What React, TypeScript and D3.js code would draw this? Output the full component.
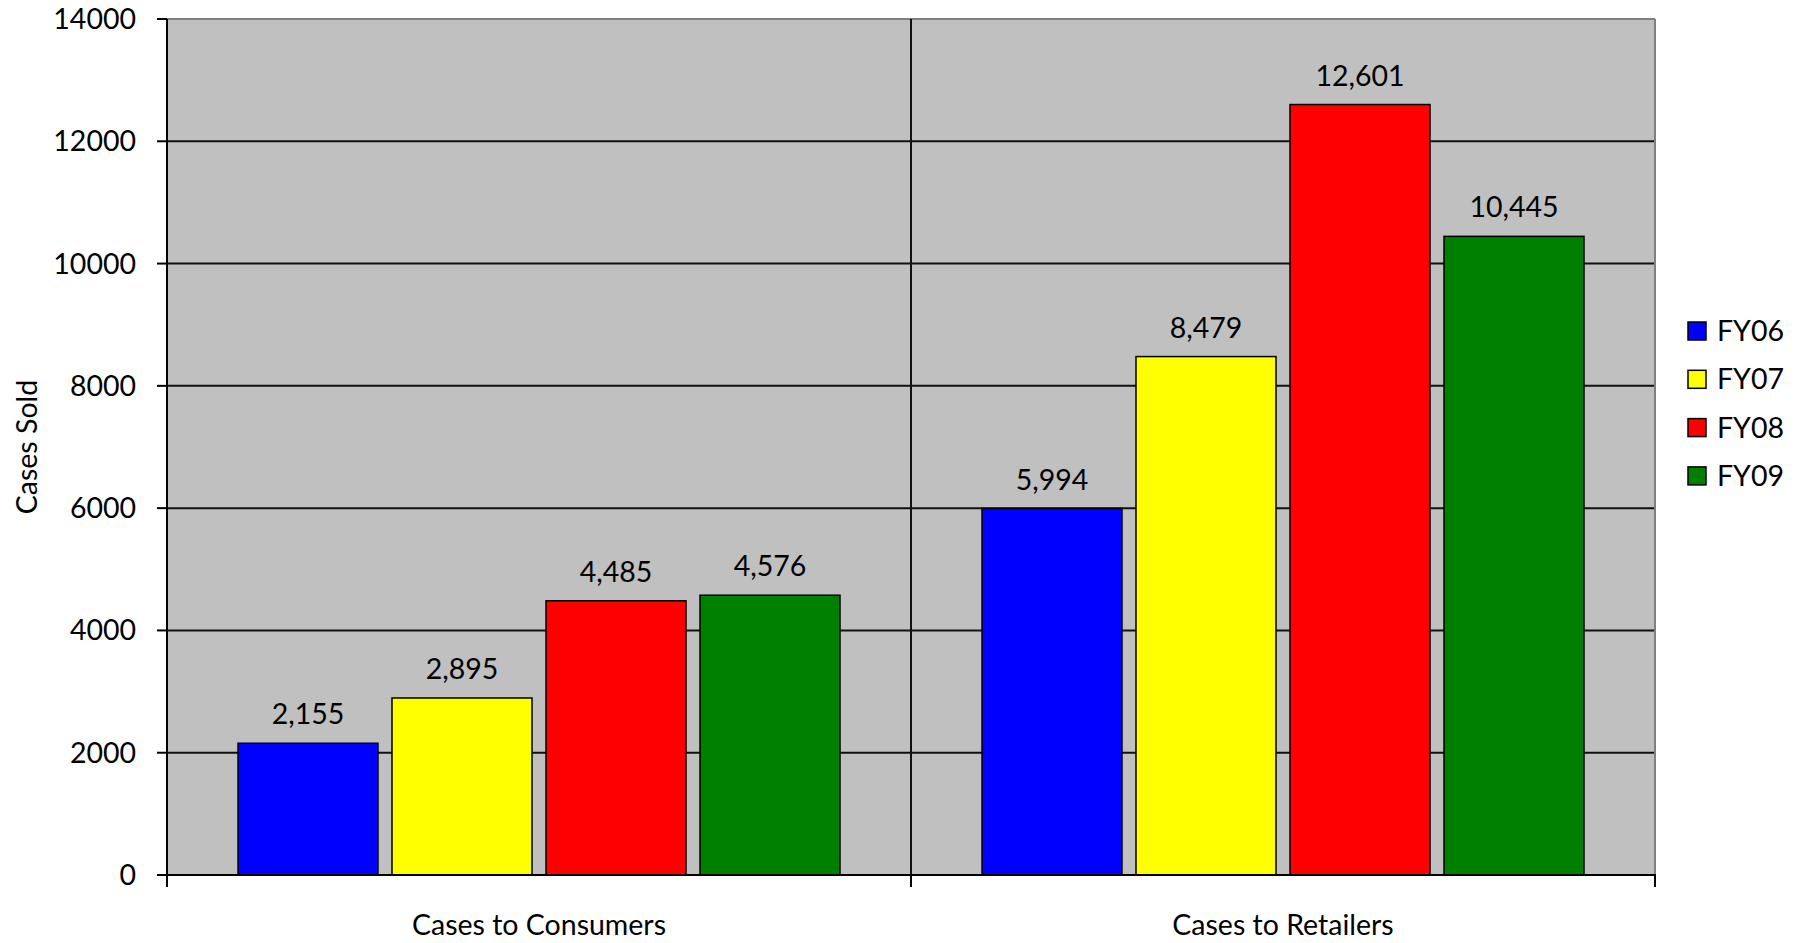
import React from "react";
import * as d3 from "d3";

const categories = ["Cases to Consumers", "Cases to Retailers"];
const seriesNames = ["FY06", "FY07", "FY08", "FY09"];
const seriesColors = ["#0000ff", "#ffff00", "#ff0000", "#008000"];
const fy06 = [2155, 5994];
const fy07 = [2895, 8479];
const fy08 = [4485, 12601];
const fy09 = [4576, 10445];
const yTicks = [0, 2000, 4000, 6000, 8000, 10000, 12000, 14000];
const yTitle = "Cases Sold";

const seriesValues = [fy06, fy07, fy08, fy09];

const W = 1800;
const H = 943;
const left = 167;
const right = 1655;
const top = 19;
const bottom = 875;
const FONT = "Lato, 'Open Sans', sans-serif";
const FS = 28.5;

export default function App() {
  const y = d3.scaleLinear().domain([0, 14000]).range([bottom, top]);
  const x0 = d3.scaleBand<string>().domain(categories).range([left, right]).padding(0);
  const bw = x0.bandwidth();
  const groupPad = bw * (71 / 744);
  const x1 = d3
    .scaleBand<string>()
    .domain(seriesNames)
    .range([groupPad, bw - groupPad])
    .paddingInner(14 / 154)
    .paddingOuter(0);
  const fmt = d3.format(",");

  return (
    <svg
      width={W}
      height={H}
      style={{ position: "absolute", left: 0, top: 0, background: "#fff" }}
      fontFamily={FONT}
    >
      <rect x={left} y={top} width={right - left} height={bottom - top} fill="#c0c0c0" />
      {yTicks.filter((t) => t > 0).map((t) => (
        <line key={t} x1={left} x2={right} y1={y(t)} y2={y(t)} stroke="#111" strokeWidth={2} />
      ))}
      <line x1={left} x2={right} y1={top} y2={top} stroke="#808080" strokeWidth={2} />
      <line x1={right} x2={right} y1={top} y2={bottom} stroke="#808080" strokeWidth={2} />
      {categories.slice(1).map((c) => (
        <line key={c} x1={x0(c)!} x2={x0(c)!} y1={top} y2={bottom} stroke="#111" strokeWidth={2} />
      ))}
      {categories.map((c, ci) =>
        seriesNames.map((s, si) => {
          const v = seriesValues[si][ci];
          const bx = x0(c)! + x1(s)!;
          return (
            <g key={c + s}>
              <rect
                x={bx}
                y={y(v)}
                width={x1.bandwidth()}
                height={bottom - y(v)}
                fill={seriesColors[si]}
                stroke="#000"
                strokeWidth={1.5}
              />
              <text
                x={bx + x1.bandwidth() / 2}
                y={y(v) - 19}
                textAnchor="middle"
                fontSize={FS}
                fill="#000"
              >
                {fmt(v)}
              </text>
            </g>
          );
        })
      )}
      <line x1={left} x2={left} y1={top} y2={bottom} stroke="#000" strokeWidth={2} />
      <line x1={left - 1} x2={right + 1} y1={bottom} y2={bottom} stroke="#000" strokeWidth={2} />
      {yTicks.map((t) => (
        <g key={t}>
          <line x1={left - 10} x2={left} y1={y(t)} y2={y(t)} stroke="#000" strokeWidth={2} />
          <text x={136} y={y(t)} dy="0.35em" textAnchor="end" fontSize={FS} fill="#000">
            {t}
          </text>
        </g>
      ))}
      {[...categories.map((c) => x0(c)!), right].map((xv, i) => (
        <line key={i} x1={xv} x2={xv} y1={bottom} y2={bottom + 12} stroke="#000" strokeWidth={2} />
      ))}
      {categories.map((c) => (
        <text key={c} x={x0(c)! + bw / 2} y={935} textAnchor="middle" fontSize={FS} fill="#000">
          {c}
        </text>
      ))}
      <text
        transform={`translate(37, ${(top + bottom) / 2}) rotate(-90)`}
        textAnchor="middle"
        fontSize={FS}
        fill="#000"
      >
        {yTitle}
      </text>
      {seriesNames.map((s, i) => {
        const cy = 331 + i * 48.3;
        return (
          <g key={s}>
            <rect x={1688} y={cy - 9} width={18} height={18} fill={seriesColors[i]} stroke="#000" strokeWidth={1.5} />
            <text x={1717} y={cy} dy="0.35em" fontSize={FS} fill="#000">
              {s}
            </text>
          </g>
        );
      })}
    </svg>
  );
}
